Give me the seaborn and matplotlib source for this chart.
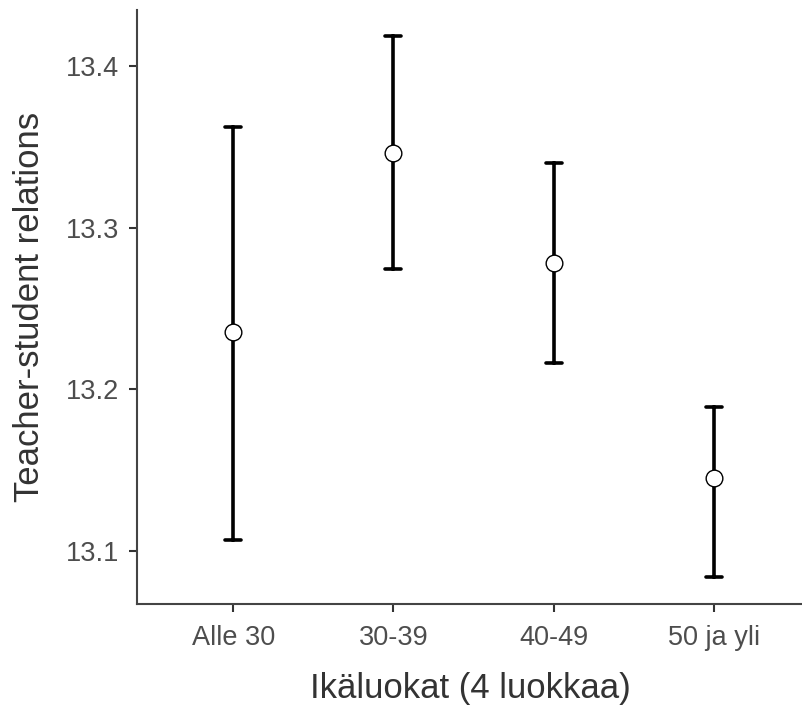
import numpy as np
import pandas as pd
import matplotlib
matplotlib.use("Agg")
import matplotlib.pyplot as plt
import seaborn as sns

categories = ["Alle 30", "30-39", "40-49", "50 ja yli"]
means = [13.2355, 13.3462, 13.2782, 13.1454]
lower = [13.1069, 13.2745, 13.2163, 13.0838]
upper = [13.3623, 13.4184, 13.3400, 13.1891]
yticks = [13.1, 13.2, 13.3, 13.4]

sns.set_theme(style="ticks")
plt.rcParams['font.family'] = ['Liberation Sans', 'DejaVu Sans']

rows = []
for c, lo, m, hi in zip(categories, lower, means, upper):
    for v in (lo, m, hi):
        rows.append({"group": c, "value": v})
df = pd.DataFrame(rows)

fig = plt.figure(figsize=(8.03, 7.06), dpi=100)
ax = fig.add_axes([137/803, 1-604/706, 1-137/803, (604-10)/706])

sns.pointplot(data=df, x="group", y="value", order=categories,
              estimator=np.median, errorbar=("pi", 100),
              linestyle="none", marker="o", color="black",
              capsize=0.1, err_kws={"linewidth": 2.6},
              markerfacecolor="white", markeredgecolor="black",
              markersize=12, markeredgewidth=1.0, ax=ax)

for line in ax.lines:
    if line.get_marker() == "o":
        line.set_zorder(5)

ax.set_xlim(-0.6, 3.556)
ax.set_ylim(13.0673, 13.4346)
ax.set_yticks(yticks)
ax.set_yticklabels([f"{t:.1f}" for t in yticks])
ax.set_xlabel("Ikäluokat (4 luokkaa)", fontsize=25, color="#333333", labelpad=15)
ax.set_ylabel("Teacher-student relations", fontsize=25, color="#333333", labelpad=14)
ax.tick_params(axis="both", labelsize=19.5, colors="#333333", length=6, width=1.5)
ax.tick_params(axis="y", pad=7)
ax.tick_params(axis="x", pad=9)
ax.tick_params(axis="both", labelcolor="#4d4d4d")
for s in ["top", "right"]:
    ax.spines[s].set_visible(False)
for s in ["left", "bottom"]:
    ax.spines[s].set_color("#444444")
    ax.spines[s].set_linewidth(1.5)

fig.savefig("out.png", dpi=100)
